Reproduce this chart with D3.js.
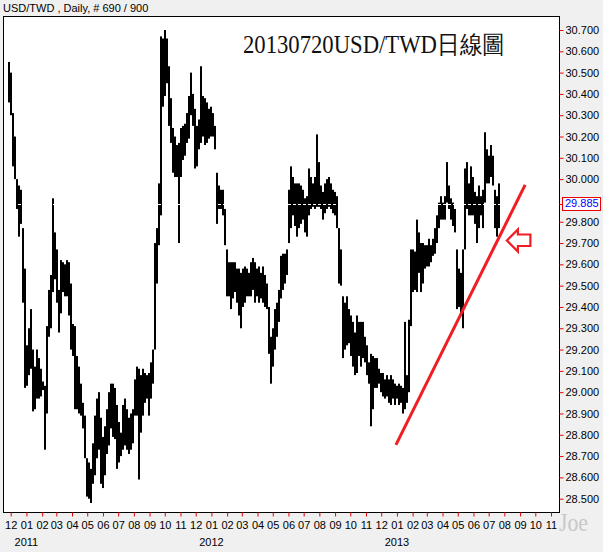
<!DOCTYPE html>
<html><head><meta charset="utf-8">
<script src="https://cdn.jsdelivr.net/npm/d3@7"></script>
<style>
html,body{margin:0;padding:0;background:#f0f0f0;}
svg{display:block;}
text{font-family:"Liberation Sans",Arial,sans-serif;}
</style></head>
<body>
<script>
// ---- data ----
const headerText = "USD/TWD , Daily, # 690 / 900";
const titleText = "20130720USD/TWD日線圖";
const firstBar = Date.UTC(2010, 10, 27, 15, 30); // first bar time
const barStepDays = 3.946;                        // spacing between sampled bars
const highs = [
30.55,30.50,30.31,30.20,30.00,29.97,29.95,29.77,29.58,29.22,
29.30,29.39,29.20,29.12,29.20,29.16,29.11,29.05,29.03,29.31,
29.48,29.55,29.91,29.75,29.67,29.48,29.62,29.61,29.60,29.62,
29.61,29.51,29.32,29.31,29.17,29.12,29.04,28.95,28.89,28.69,
28.67,28.64,28.76,28.89,28.97,29.00,28.88,28.79,28.84,28.92,
29.00,29.04,29.04,29.02,28.94,28.86,28.81,28.94,28.97,28.92,
28.88,28.90,28.92,29.06,29.12,29.11,29.08,29.11,29.09,29.08,
29.09,29.14,29.20,29.70,29.77,29.98,30.67,30.66,30.70,30.66,
30.53,30.38,30.24,30.20,30.16,30.17,30.24,30.25,30.26,30.31,
30.39,30.50,30.40,30.33,30.25,30.28,30.53,30.39,30.38,30.36,
30.33,30.34,30.31,30.25,30.03,29.97,29.95,29.95,29.86,29.67,
29.61,29.61,29.61,29.61,29.58,29.58,29.56,29.58,29.59,29.58,
29.56,29.61,29.63,29.61,29.58,29.59,29.56,29.59,29.55,29.51,
29.40,29.26,29.30,29.39,29.42,29.48,29.64,29.65,29.65,29.67,
29.95,30.06,30.01,29.98,29.98,29.98,29.97,29.95,29.91,29.92,
30.05,30.01,29.98,30.01,30.21,30.08,29.97,29.94,29.98,30.00,
30.01,29.98,29.95,29.94,29.92,29.77,29.67,29.45,29.42,29.45,
29.39,29.36,29.33,29.28,29.36,29.33,29.33,29.33,29.26,29.22,
29.14,29.18,29.17,29.16,29.16,29.11,29.09,29.09,29.06,29.08,
29.06,29.08,29.06,29.04,29.03,29.04,29.03,29.02,29.33,29.08,
29.34,29.67,29.67,29.66,29.81,29.75,29.70,29.70,29.69,29.69,
29.72,29.69,29.72,29.77,29.83,29.89,29.92,29.89,29.92,30.08,
29.97,29.91,29.89,29.86,29.67,29.58,29.56,29.67,30.05,30.08,
29.98,30.06,30.01,29.94,29.92,29.97,29.92,29.95,30.22,30.14,
30.11,30.16,30.11,29.95,29.92,29.98];
const lows = [
30.36,30.30,30.06,30.00,29.86,29.73,29.79,29.42,29.02,29.03,
29.08,29.11,28.91,28.92,28.97,28.97,28.98,29.01,28.73,28.90,
29.26,29.30,29.47,29.53,29.42,29.28,29.37,29.47,29.45,29.45,
29.36,29.20,29.17,28.92,28.92,28.90,28.89,28.83,28.69,28.51,
28.50,28.48,28.57,28.61,28.69,28.73,28.57,28.55,28.61,28.71,
28.75,28.83,28.79,28.78,28.64,28.67,28.70,28.73,28.75,28.73,
28.71,28.73,28.76,28.89,28.89,28.59,28.81,28.89,28.95,28.97,
28.89,28.97,29.04,29.20,29.51,29.69,29.83,30.34,30.39,30.45,
30.25,30.17,30.03,30.01,30.01,29.70,30.01,30.09,30.11,30.17,
30.19,30.30,30.25,30.05,30.06,30.14,30.17,30.20,30.16,30.17,
30.19,30.20,30.20,30.14,29.79,29.86,29.86,29.83,29.69,29.45,
29.45,29.39,29.44,29.47,29.42,29.36,29.30,29.40,29.42,29.45,
29.45,29.45,29.48,29.42,29.45,29.42,29.44,29.42,29.40,29.39,
29.18,29.04,29.12,29.20,29.26,29.33,29.44,29.48,29.51,29.55,
29.70,29.77,29.83,29.78,29.73,29.77,29.79,29.81,29.75,29.73,
29.83,29.86,29.87,29.86,29.87,29.87,29.86,29.81,29.84,29.86,
29.87,29.86,29.84,29.83,29.77,29.51,29.50,29.16,29.20,29.22,
29.23,29.17,29.12,29.08,29.09,29.17,29.12,29.16,29.14,29.08,
29.04,28.84,28.92,29.02,29.02,29.04,29.00,28.98,28.97,28.98,
28.95,28.94,28.97,28.94,28.97,28.94,28.95,28.90,28.92,28.95,
29.00,29.31,29.47,29.48,29.47,29.56,29.47,29.51,29.58,29.59,
29.59,29.61,29.64,29.65,29.70,29.77,29.81,29.81,29.81,29.89,
29.86,29.81,29.78,29.75,29.39,29.40,29.36,29.30,29.67,29.86,
29.83,29.83,29.83,29.79,29.70,29.77,29.83,29.77,29.89,29.98,
29.98,30.01,29.97,29.77,29.73,29.77];
const lastPrice = 29.885;
const yTicks = [30.7,30.6,30.5,30.4,30.3,30.2,30.1,30.0,29.8,29.7,29.6,29.5,29.4,29.3,29.2,29.1,29.0,28.9,28.8,28.7,28.6,28.5];
const trendLine = [{date: Date.UTC(2012,11,30), value: 28.753}, {date: Date.UTC(2013,8,11), value: 29.973}];
const arrowTip = {date: Date.UTC(2013,7,6), value: 29.712};

// ---- layout ----
const W = 603, H = 552;
const plot = {l: 3, t: 16, r: 559, b: 512};
const svg = d3.select("body").append("svg").attr("width", W).attr("height", H);

const x = d3.scaleUtc().domain([Date.UTC(2010,11,1), Date.UTC(2013,10,1)]).range([10.7, 551]);
const y = d3.scaleLinear().domain([28.5, 30.7]).range([498.7, 30]);

svg.append("text").attr("x", 3).attr("y", 12).attr("font-size", 11).attr("fill", "#000").text(headerText);

svg.append("rect").attr("x", plot.l + 0.5).attr("y", plot.t + 0.5)
  .attr("width", plot.r - plot.l).attr("height", plot.b - plot.t)
  .attr("fill", "#fff").attr("stroke", "#000").attr("stroke-width", 1);

svg.append("clipPath").attr("id", "clip").append("rect")
  .attr("x", plot.l + 1).attr("y", plot.t + 1).attr("width", plot.r - plot.l - 1).attr("height", plot.b - plot.t - 1);

const bars = highs.map((h, i) => ({date: new Date(firstBar + i * barStepDays * 864e5), high: h, low: lows[i]}));

const g = svg.append("g").attr("clip-path", "url(#clip)");
g.selectAll("rect.bar").data(bars).join("rect").attr("class", "bar")
  .attr("x", d => x(d.date) - 1)
  .attr("width", 2)
  .attr("y", d => y(d.high))
  .attr("height", d => Math.max(1, y(d.low) - y(d.high)))
  .attr("fill", "#000");

// current price line (white dotted over the bars)
g.append("line").attr("x1", plot.l).attr("x2", plot.r)
  .attr("y1", Math.round(y(lastPrice)) + 0.5).attr("y2", Math.round(y(lastPrice)) + 0.5)
  .attr("stroke", "#fff").attr("stroke-width", 1).attr("stroke-dasharray", "3,2");

// title
svg.append("text").attr("x", 243).attr("y", 53)
  .attr("font-family", "'Liberation Serif','DejaVu Serif',serif")
  .attr("font-size", 25).attr("fill", "#111")
  .attr("textLength", 262).attr("lengthAdjust", "spacingAndGlyphs")
  .style("font-family", "'Liberation Serif','DejaVu Serif',serif")
  .text(titleText);

// trend line
g.append("line")
  .attr("x1", x(trendLine[0].date)).attr("y1", y(trendLine[0].value))
  .attr("x2", x(trendLine[1].date)).attr("y2", y(trendLine[1].value))
  .attr("stroke", "#f01e23").attr("stroke-width", 3);

// arrow
const ax = x(arrowTip.date), ay = y(arrowTip.value);
const arrowPts = [[0,0],[11,-11],[11,-6],[23.5,-6],[23.5,5.5],[11,5.5],[11,11]];
g.append("polygon")
  .attr("points", arrowPts.map(p => [ax + p[0], ay + p[1]].join(",")).join(" "))
  .attr("fill", "none").attr("stroke", "#f01e23").attr("stroke-width", 2.2);

// x axis
const months = d3.utcMonth.range(Date.UTC(2010,11,1), Date.UTC(2013,10,2));
const xAxis = svg.append("g").attr("transform", `translate(0,${plot.b})`)
  .call(d3.axisBottom(x).tickValues(months).tickFormat(d3.utcFormat("%m")).tickSize(4).tickPadding(5));
xAxis.select(".domain").remove();
xAxis.selectAll(".tick line").attr("stroke", "#e00").attr("transform", "translate(0,0.5)");
xAxis.selectAll(".tick text").attr("font-size", 11).attr("fill", "#000").style("font-family", "'Liberation Sans',Arial,sans-serif");

const years = months.filter(d => d.getUTCMonth() === 0);
svg.selectAll("text.year").data(years).join("text").attr("class", "year")
  .attr("x", d => x(d)).attr("y", 546).attr("text-anchor", "middle")
  .attr("font-size", 11).attr("fill", "#000").text(d3.utcFormat("%Y"));

// y axis
const yAxis = svg.append("g").attr("transform", `translate(${plot.r + 0.5},0)`)
  .call(d3.axisRight(y).tickValues(yTicks).tickFormat(d3.format(".3f")).tickSize(4).tickPadding(2));
yAxis.select(".domain").remove();
yAxis.selectAll(".tick line").attr("stroke", "#e00");
yAxis.selectAll(".tick text").attr("font-size", 11).attr("fill", "#000").style("font-family", "'Liberation Sans',Arial,sans-serif");

// last price box
const ly = y(lastPrice);
svg.append("line").attr("x1", plot.r + 0.5).attr("x2", plot.r + 4.5).attr("y1", Math.round(ly) + 0.5).attr("y2", Math.round(ly) + 0.5).attr("stroke", "#e00");
svg.append("rect").attr("x", 562.5).attr("y", Math.round(ly) - 6.5).attr("width", 38).attr("height", 13)
  .attr("fill", "#fff").attr("stroke", "#e00");
svg.append("text").attr("x", 565).attr("y", ly).attr("dy", "0.35em").attr("font-size", 11).attr("fill", "#00f").text(d3.format(".3f")(lastPrice));

// watermark
svg.append("text").attr("x", 559).attr("y", 531)
  .attr("font-size", 26).attr("fill", "#c8c8c8")
  .attr("textLength", 29).attr("lengthAdjust", "spacingAndGlyphs")
  .style("font-family", "'Liberation Serif',serif").text("Joe");
</script>
</body></html>
